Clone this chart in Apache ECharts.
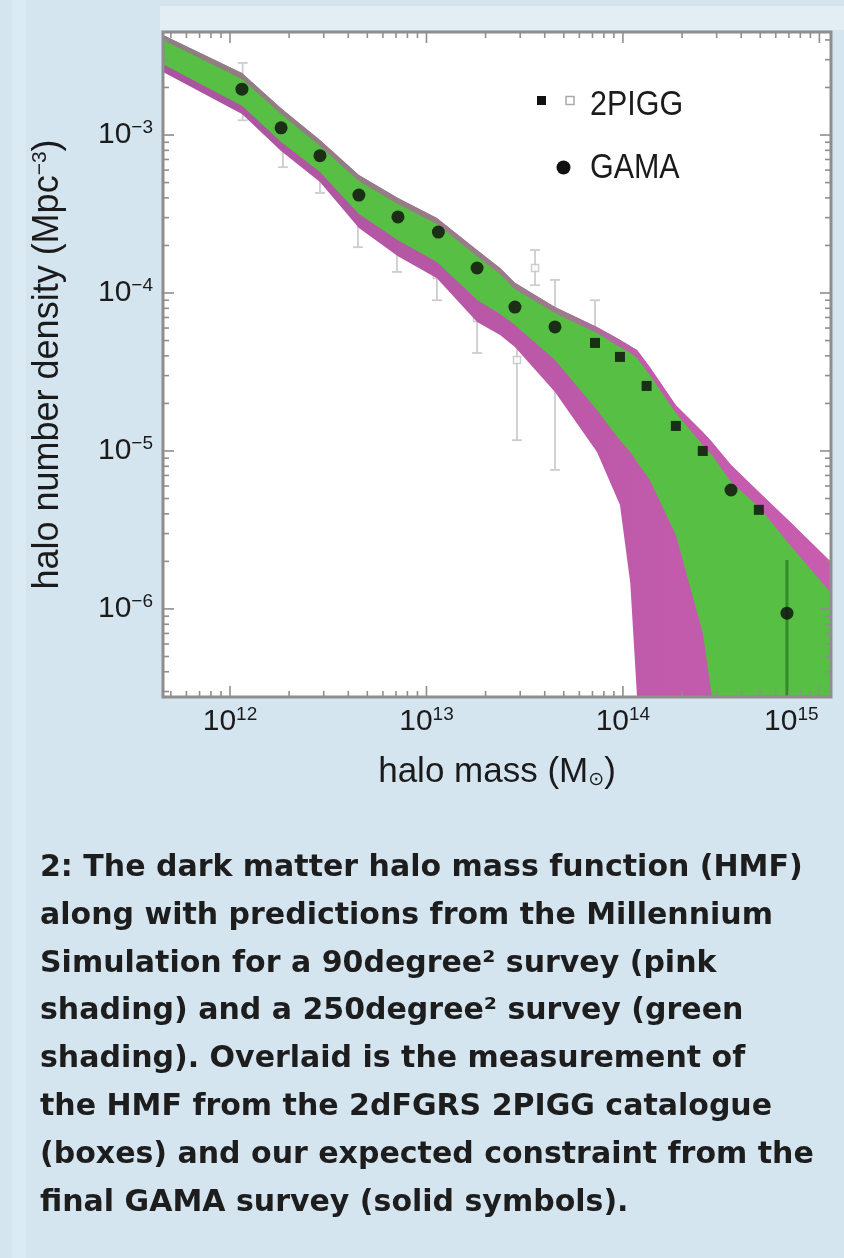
<!DOCTYPE html>
<html>
<head>
<meta charset="utf-8">
<script src="https://cdn.jsdelivr.net/npm/echarts@6/dist/echarts.min.js"></script>
<style>
  html, body { margin: 0; padding: 0; background: #d5e5f0; }
  #chart { width: 844px; height: 1258px; }
</style>
</head>
<body>
<div id="chart"></div>
<script>
// Halo mass in solar masses, number density in Mpc^-3

// GAMA expected constraint (solid circles)
const gamaMass    = [1.15e12, 1.82e12, 2.87e12, 4.53e12, 7.16e12, 1.15e13, 1.81e13, 2.82e13, 4.51e13, 3.55e14, 6.84e14];
const gamaDensity = [1.95e-3, 1.11e-3, 7.4e-4, 4.17e-4, 3.03e-4, 2.43e-4, 1.44e-4, 8.15e-5, 6.1e-5, 5.66e-6, 9.4e-7];
// GAMA error bar that shows outside its symbol
const gamaBarMass = [6.84e14];
const gamaBarLow  = [2.77e-7];
const gamaBarHigh = [2.04e-6];

// 2PIGG measurement, filled boxes
const pigFilledMass    = [7.21e13, 9.66e13, 1.32e14, 1.86e14, 2.55e14, 4.92e14];
const pigFilledDensity = [4.83e-5, 3.94e-5, 2.58e-5, 1.44e-5, 1.0e-5, 4.24e-6];

// 2PIGG measurement, open boxes with error bars
const pigOpenMass    = [1.16e12, 1.86e12, 2.87e12, 4.48e12, 7.08e12, 1.13e13, 1.81e13, 2.89e13, 3.57e13, 4.51e13, 7.21e13];
const pigOpenDensity = [1.79e-3, 9.3e-4, 6.46e-4, 3.12e-4, 2.01e-4, 1.30e-4, 6.95e-5, 3.77e-5, 1.44e-4, 5.05e-5, 5.05e-5];
const pigOpenHigh    = [2.86e-3, 1.24e-3, 8.65e-4, 4.49e-4, 2.81e-4, 1.87e-4, 1.04e-4, 9.0e-5, 1.87e-4, 1.21e-4, 9.0e-5];
const pigOpenLow     = [1.24e-3, 6.26e-4, 4.30e-4, 1.95e-4, 1.36e-4, 9.0e-5, 4.17e-5, 1.17e-5, 1.12e-4, 7.59e-6, 2.10e-5];

// Millennium Simulation prediction envelopes
const bandMass   = [4.56e11, 1.15e12, 1.82e12, 2.87e12, 4.53e12, 7.16e12, 1.13e13, 1.81e13, 2.37e13, 2.82e13, 4.51e13, 7.38e13,
                    9.66e13, 1.09e14, 1.18e14, 1.37e14, 1.86e14, 2.55e14, 2.84e14, 3.55e14, 4.98e14, 7.08e14, 1.146e15];
// 90 deg^2 survey (pink)
const pinkUpper  = [4.30e-3, 2.47e-3, 1.48e-3, 9.29e-4, 5.58e-4, 3.99e-4, 2.98e-4, 1.87e-4, 1.44e-4, 1.16e-4, 8.15e-5, 6.09e-5,
                    5.05e-5, 4.62e-5, 4.35e-5, 3.40e-5, 1.95e-5, 1.32e-5, 1.14e-5, 8.15e-6, 5.42e-6, 3.56e-6, 1.98e-6];
const pinkLower  = [2.51e-3, 1.36e-3, 7.92e-4, 5.04e-4, 2.58e-4, 1.71e-4, 1.24e-4, 6.55e-5, 5.42e-5, 4.55e-5, 2.36e-5, 9.86e-6,
                    4.55e-6, 1.46e-6, 2.77e-7, 2.77e-7, 2.77e-7, 2.77e-7, 2.77e-7, 2.77e-7, 2.77e-7, 2.77e-7, 2.77e-7];
// 250 deg^2 survey (green)
const greenUpper = [3.99e-3, 2.26e-3, 1.36e-3, 8.52e-4, 5.12e-4, 3.66e-4, 2.74e-4, 1.71e-4, 1.32e-4, 1.06e-4, 7.47e-5, 5.58e-5,
                    4.55e-5, 4.17e-5, 3.88e-5, 3.03e-5, 1.74e-5, 1.09e-5, 9.44e-6, 6.36e-6, 4.35e-6, 2.54e-6, 1.26e-6];
const greenLower = [2.81e-3, 1.53e-3, 9.03e-4, 5.83e-4, 3.16e-4, 2.16e-4, 1.57e-4, 9.03e-5, 7.36e-5, 6.27e-5, 3.77e-5, 1.82e-5,
                    1.17e-5, 9.86e-6, 8.52e-6, 6.55e-6, 2.94e-6, 7.05e-7, 2.77e-7, 2.77e-7, 2.77e-7, 2.77e-7, 2.77e-7];

// Axis ranges and tick labels
const massRange    = [4.56e11, 1.146e15];
const densityRange = [2.77e-7, 4.49e-3];
const xTickExponents = [12, 13, 14, 15];
const yTickExponents = [-6, -5, -4, -3];
const minorFactors = [2, 3, 4, 5, 6, 7, 8, 9];

const legendItems = ['2PIGG', 'GAMA'];
const captionLines = [
  '2: The dark matter halo mass function (HMF)',
  'along with predictions from the Millennium',
  'Simulation for a 90degree\u00B2 survey (pink',
  'shading) and a 250degree\u00B2 survey (green',
  'shading). Overlaid is the measurement of',
  'the HMF from the 2dFGRS 2PIGG catalogue',
  '(boxes) and our expected constraint from the',
  'final GAMA survey (solid symbols).'
];

const FONT = '"Liberation Sans", Arial, Helvetica, sans-serif';
const TEXT = '#1b1b1b';
const FRAME = '#8e8e8e';

function expText(e) {
  return (e < 0 ? '\u2212' : '') + Math.abs(e);
}
function decadeOf(value, list) {
  const l = Math.log10(value);
  const r = Math.round(l);
  if (Math.abs(l - r) > 1e-6 || list.indexOf(r) < 0) return null;
  return r;
}

const powRich = {
  b: { fontSize: 30, fontFamily: FONT, color: TEXT },
  s: { fontSize: 19, fontFamily: FONT, color: TEXT, padding: [0, 0, 15, 0] },
  gap: { width: 56, fontSize: 10 }
};

// Filled region between an upper and a lower boundary, through the axes' scales
function bandSeries(upper, lower, fill, z) {
  return {
    type: 'custom', z: z, silent: true,
    data: [[massRange[0], densityRange[0]]],
    renderItem: function (params, api) {
      const pts = [];
      for (let i = 0; i < bandMass.length; i++) pts.push(api.coord([bandMass[i], upper[i]]));
      for (let i = bandMass.length - 1; i >= 0; i--) pts.push(api.coord([bandMass[i], lower[i]]));
      return { type: 'polygon', shape: { points: pts }, style: { fill: fill } };
    }
  };
}

function errorBarSeries(mass, low, high, color, width, cap, z) {
  return {
    type: 'custom', z: z, silent: true,
    data: mass.map(function (m, i) { return [m, low[i], high[i]]; }),
    encode: { x: 0, y: [1, 2] },
    renderItem: function (params, api) {
      const lo = api.coord([api.value(0), api.value(1)]);
      const hi = api.coord([api.value(0), api.value(2)]);
      const st = { stroke: color, lineWidth: width };
      const kids = [{ type: 'line', shape: { x1: lo[0], y1: lo[1], x2: hi[0], y2: hi[1] }, style: st }];
      if (cap > 0) {
        kids.push({ type: 'line', shape: { x1: lo[0] - cap, y1: lo[1], x2: lo[0] + cap, y2: lo[1] }, style: st });
        kids.push({ type: 'line', shape: { x1: hi[0] - cap, y1: hi[1], x2: hi[0] + cap, y2: hi[1] }, style: st });
      }
      return { type: 'group', children: kids };
    }
  };
}

// Frame with inward log ticks on all four sides
const frameSeries = {
  type: 'custom', z: 20, silent: true,
  data: [[massRange[0], densityRange[0]]],
  renderItem: function (params, api) {
    const cs = params.coordSys;
    const L = cs.x, T = cs.y, R = cs.x + cs.width, B = cs.y + cs.height;
    const st = { stroke: FRAME, lineWidth: 1.6 };
    const kids = [];
    const factors = [1].concat(minorFactors);
    for (let e = Math.floor(Math.log10(massRange[0])); e <= Math.ceil(Math.log10(massRange[1])); e++) {
      factors.forEach(function (f) {
        const v = f * Math.pow(10, e);
        if (v <= massRange[0] || v >= massRange[1]) return;
        const x = api.coord([v, densityRange[1]])[0];
        const len = f === 1 ? 11 : 6;
        kids.push({ type: 'line', shape: { x1: x, y1: B, x2: x, y2: B - len }, style: st });
        kids.push({ type: 'line', shape: { x1: x, y1: T, x2: x, y2: T + len }, style: st });
      });
    }
    for (let e = Math.floor(Math.log10(densityRange[0])); e <= Math.ceil(Math.log10(densityRange[1])); e++) {
      factors.forEach(function (f) {
        const v = f * Math.pow(10, e);
        if (v <= densityRange[0] || v >= densityRange[1]) return;
        const y = api.coord([massRange[0], v])[1];
        const len = f === 1 ? 11 : 6;
        kids.push({ type: 'line', shape: { x1: L, y1: y, x2: L + len, y2: y }, style: st });
        kids.push({ type: 'line', shape: { x1: R, y1: y, x2: R - len, y2: y }, style: st });
      });
    }
    kids.push({ type: 'rect', shape: { x: L, y: T, width: cs.width, height: cs.height },
                style: { fill: 'none', stroke: FRAME, lineWidth: 3 } });
    return { type: 'group', children: kids };
  }
};

const LG = echarts.graphic.LinearGradient;
const pinkFill = new LG(0, 0, 1, 0, [
  { offset: 0, color: '#a9549f' }, { offset: 0.55, color: '#bb58a8' }, { offset: 1, color: '#c85db0' }
]);
// thin upper rim of the pink envelope, muted where it borders the green band
const rimFill = new LG(0, 0, 1, 0, [
  { offset: 0, color: '#8e7e80' }, { offset: 0.6, color: '#9c7b8c' }, { offset: 0.72, color: '#c35aac' }, { offset: 1, color: '#c85db0' }
]);

const chart = echarts.init(document.getElementById('chart'), null, { renderer: 'canvas', width: 844, height: 1258 });

const graphics = [
  { type: 'rect', silent: true, shape: { x: 12, y: 0, width: 14, height: 1258 }, style: { fill: '#dcebf3' } },
  { type: 'rect', silent: true, shape: { x: 160, y: 6, width: 684, height: 24 }, style: { fill: '#e2eef4' } },
  // legend
  { type: 'rect', shape: { x: 537, y: 96, width: 9, height: 9 }, style: { fill: '#111' } },
  { type: 'rect', shape: { x: 566, y: 96.5, width: 8, height: 8 }, style: { fill: '#fff', stroke: '#aaaaaa', lineWidth: 1.5 } },
  { type: 'text', x: 590, y: 105, scaleX: 0.87,
    style: { text: legendItems[0], fontSize: 35, fontFamily: FONT, fill: TEXT, verticalAlign: 'middle' } },
  { type: 'circle', shape: { cx: 563.5, cy: 167.5, r: 7 }, style: { fill: '#111' } },
  { type: 'text', x: 590, y: 168, scaleX: 0.87,
    style: { text: legendItems[1], fontSize: 35, fontFamily: FONT, fill: TEXT, verticalAlign: 'middle' } }
];
captionLines.forEach(function (line, i) {
  graphics.push({
    type: 'text', x: 40, y: 868 + i * 47.9,
    style: { text: line, fontSize: 30, fontWeight: 'bold', fontFamily: '"DejaVu Sans", sans-serif',
             fill: '#1d1d1d', verticalAlign: 'middle' }
  });
});

chart.setOption({
  animation: false,
  backgroundColor: '#d5e5f0',
  grid: { left: 163, right: 13, top: 32, bottom: 561, show: true, backgroundColor: '#ffffff', borderWidth: 0,
          outerBoundsMode: 'none' },
  xAxis: {
    type: 'log', logBase: 10, min: massRange[0], max: massRange[1],
    axisLine: { show: false }, axisTick: { show: false }, splitLine: { show: false }, minorTick: { show: false },
    axisLabel: {
      margin: 8, showMinLabel: true, showMaxLabel: true, rich: powRich,
      formatter: function (v) {
        const e = decadeOf(v, xTickExponents);
        if (e === null) return '';
        let s = '{b|10}{s|' + expText(e) + '}';
        if (e === xTickExponents[xTickExponents.length - 1]) s += '{gap| }';
        return s;
      }
    },
    name: 'halo mass (M{sub|\u2299})', nameLocation: 'middle', nameGap: 58,
    nameTextStyle: { fontSize: 35, fontFamily: FONT, color: TEXT,
                     rich: { sub: { fontSize: 19, fontFamily: '"DejaVu Sans", sans-serif', color: TEXT, padding: [16, 0, 0, 0] } } }
  },
  yAxis: {
    type: 'log', logBase: 10, min: densityRange[0], max: densityRange[1],
    axisLine: { show: false }, axisTick: { show: false }, splitLine: { show: false }, minorTick: { show: false },
    axisLabel: {
      margin: 10, showMinLabel: true, showMaxLabel: true, rich: powRich,
      formatter: function (v) {
        const e = decadeOf(v, yTickExponents);
        if (e === null) return '';
        return '{b|10}{s|' + expText(e) + '}';
      }
    },
    name: 'halo number density (Mpc{sup|\u22123})', nameLocation: 'middle', nameGap: 96,
    nameTextStyle: { fontSize: 36, fontFamily: FONT, color: TEXT,
                     rich: { sup: { fontSize: 21, fontFamily: FONT, color: TEXT, padding: [0, 0, 16, 0] } } }
  },
  graphic: graphics,
  series: [
    errorBarSeries(pigOpenMass, pigOpenLow, pigOpenHigh, '#cdcdcd', 1.8, 5, 1),
    {
      type: 'scatter', z: 1, silent: true, symbol: 'rect', symbolSize: 7,
      itemStyle: { color: '#ffffff', borderColor: '#c2c2c2', borderWidth: 1.5 },
      data: pigOpenMass.map(function (m, i) { return [m, pigOpenDensity[i]]; })
    },
    bandSeries(pinkUpper, pinkLower, pinkFill, 2),
    bandSeries(pinkUpper, greenUpper, rimFill, 3),
    bandSeries(greenUpper, greenLower, '#57bf43', 4),
    errorBarSeries(gamaBarMass, gamaBarLow, gamaBarHigh, 'rgba(25,95,25,0.55)', 3, 0, 5),
    {
      type: 'scatter', z: 6, silent: true, symbol: 'rect', symbolSize: 10,
      itemStyle: { color: '#0b0b0b' },
      data: pigFilledMass.map(function (m, i) { return [m, pigFilledDensity[i]]; })
    },
    {
      type: 'scatter', z: 7, silent: true, symbol: 'circle', symbolSize: 13,
      itemStyle: { color: '#0b0b0b' },
      data: gamaMass.map(function (m, i) { return [m, gamaDensity[i]]; })
    },
    frameSeries
  ]
});
</script>
</body>
</html>
